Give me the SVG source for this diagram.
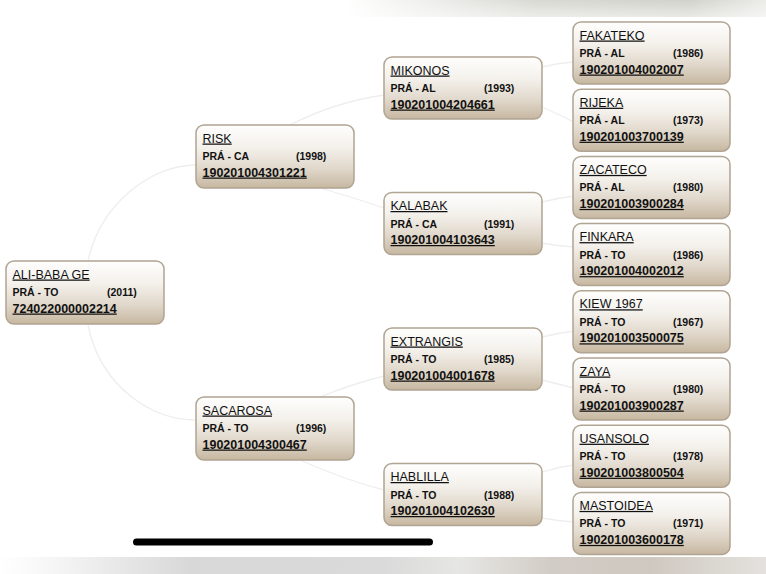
<svg xmlns="http://www.w3.org/2000/svg" width="766" height="574" viewBox="0 0 766 574">
<defs>
<linearGradient id="nodeFill" x1="0" y1="0" x2="0" y2="1">
<stop offset="0" stop-color="#fefefd"/>
<stop offset="0.35" stop-color="#f4f1ec"/>
<stop offset="0.7" stop-color="#e0d7ca"/>
<stop offset="1" stop-color="#c6b7a0"/>
</linearGradient>
<linearGradient id="topBand" x1="0" y1="0" x2="1" y2="0">
<stop offset="0" stop-color="#ffffff"/>
<stop offset="0.45" stop-color="#ffffff"/>
<stop offset="0.7" stop-color="#d9d9d3"/>
<stop offset="0.9" stop-color="#d2d2cc"/>
<stop offset="1" stop-color="#ecece8"/>
</linearGradient>
<linearGradient id="topFade" x1="0" y1="0" x2="0" y2="1">
<stop offset="0" stop-color="#ffffff" stop-opacity="0"/>
<stop offset="1" stop-color="#ffffff" stop-opacity="0.5"/>
</linearGradient>
<linearGradient id="botBand" x1="0" y1="0" x2="1" y2="0">
<stop offset="0" stop-color="#ffffff"/>
<stop offset="0.08" stop-color="#f4f4f4"/>
<stop offset="0.25" stop-color="#d8d8d8"/>
<stop offset="0.5" stop-color="#dadada"/>
<stop offset="0.6" stop-color="#e6e6e4"/>
<stop offset="0.72" stop-color="#d2ccc6"/>
<stop offset="0.85" stop-color="#cfc8c0"/>
<stop offset="1" stop-color="#e4e2de"/>
</linearGradient>
<style>
.box{fill:url(#nodeFill);stroke:#b0a492;stroke-width:1.5}
.nm{font-family:"Liberation Sans",Arial,sans-serif;font-size:12.5px;fill:#111111;text-decoration:underline}
.st{font-family:"Liberation Sans",Arial,sans-serif;font-size:10.5px;font-weight:bold;fill:#111111}
.id{font-family:"Liberation Sans",Arial,sans-serif;font-size:12.5px;font-weight:bold;fill:#111111;text-decoration:underline}
.cn{fill:none;stroke:#eeeeee;stroke-width:1.3}
</style>
</defs>
<rect x="0" y="0" width="766" height="574" fill="#ffffff"/>
<rect x="0" y="0" width="766" height="17" fill="url(#topBand)"/>
<rect x="0" y="0" width="766" height="17" fill="url(#topFade)"/>
<rect x="0" y="557" width="766" height="17" fill="url(#botBand)"/>

<g id="connectors">
<path class="cn" d="M88,261 C100,205 150,165 196,165"/>
<path class="cn" d="M88,325 C100,385 150,420 196,420"/>
<path class="cn" d="M290,125 Q335,102 384,95"/>
<path class="cn" d="M320,188 Q355,198 384,208"/>
<path class="cn" d="M320,397 Q352,384 384,376"/>
<path class="cn" d="M300,460 Q345,480 384,490"/>
<path class="cn" d="M542,67 Q558,63 574,62"/>
<path class="cn" d="M542,107 Q558,114 574,122"/>
<path class="cn" d="M542,202 Q558,198 574,196"/>
<path class="cn" d="M542,243 Q558,246 574,247"/>
<path class="cn" d="M542,337 Q558,333 574,331"/>
<path class="cn" d="M542,380 Q558,384 574,388"/>
<path class="cn" d="M542,472 Q558,467 574,465"/>
<path class="cn" d="M542,518 Q558,521 574,522"/>
</g>

<g id="n-alibaba" transform="translate(6,261)"><rect class="box" width="158" height="63" rx="8"/><text class="nm" x="6.5" y="17.5">ALI-BABA GE</text><text class="st" x="6.5" y="35">PRÁ - TO</text><text class="st" x="101" y="35">(2011)</text><text class="id" x="6.5" y="51.5">724022000002214</text></g>

<g id="n-risk" transform="translate(196,125)"><rect class="box" width="158" height="63" rx="8"/><text class="nm" x="6.5" y="17.5">RISK</text><text class="st" x="6.5" y="35">PRÁ - CA</text><text class="st" x="100" y="35">(1998)</text><text class="id" x="6.5" y="51.5">190201004301221</text></g>
<g id="n-sacarosa" transform="translate(196,397)"><rect class="box" width="158" height="63" rx="8"/><text class="nm" x="6.5" y="17.5">SACAROSA</text><text class="st" x="6.5" y="35">PRÁ - TO</text><text class="st" x="100" y="35">(1996)</text><text class="id" x="6.5" y="51.5">190201004300467</text></g>

<g id="n-mikonos" transform="translate(384,57)"><rect class="box" width="158" height="62" rx="8"/><text class="nm" x="6.5" y="17.5">MIKONOS</text><text class="st" x="6.5" y="35">PRÁ - AL</text><text class="st" x="100" y="35">(1993)</text><text class="id" x="6.5" y="51.5">190201004204661</text></g>
<g id="n-kalabak" transform="translate(384,192.5)"><rect class="box" width="158" height="62" rx="8"/><text class="nm" x="6.5" y="17.5">KALABAK</text><text class="st" x="6.5" y="35">PRÁ - CA</text><text class="st" x="100" y="35">(1991)</text><text class="id" x="6.5" y="51.5">190201004103643</text></g>
<g id="n-extrangis" transform="translate(384,328)"><rect class="box" width="158" height="62" rx="8"/><text class="nm" x="6.5" y="17.5">EXTRANGIS</text><text class="st" x="6.5" y="35">PRÁ - TO</text><text class="st" x="100" y="35">(1985)</text><text class="id" x="6.5" y="51.5">190201004001678</text></g>
<g id="n-hablilla" transform="translate(384,463.5)"><rect class="box" width="158" height="62" rx="8"/><text class="nm" x="6.5" y="17.5">HABLILLA</text><text class="st" x="6.5" y="35">PRÁ - TO</text><text class="st" x="100" y="35">(1988)</text><text class="id" x="6.5" y="51.5">190201004102630</text></g>

<g id="n-fakateko" transform="translate(573,22)"><rect class="box" width="157" height="62" rx="8"/><text class="nm" x="6.5" y="17.5">FAKATEKO</text><text class="st" x="6.5" y="35">PRÁ - AL</text><text class="st" x="100" y="35">(1986)</text><text class="id" x="6.5" y="51.5">190201004002007</text></g>
<g id="n-rijeka" transform="translate(573,89.2)"><rect class="box" width="157" height="62" rx="8"/><text class="nm" x="6.5" y="17.5">RIJEKA</text><text class="st" x="6.5" y="35">PRÁ - AL</text><text class="st" x="100" y="35">(1973)</text><text class="id" x="6.5" y="51.5">190201003700139</text></g>
<g id="n-zacateco" transform="translate(573,156.4)"><rect class="box" width="157" height="62" rx="8"/><text class="nm" x="6.5" y="17.5">ZACATECO</text><text class="st" x="6.5" y="35">PRÁ - AL</text><text class="st" x="100" y="35">(1980)</text><text class="id" x="6.5" y="51.5">190201003900284</text></g>
<g id="n-finkara" transform="translate(573,223.6)"><rect class="box" width="157" height="62" rx="8"/><text class="nm" x="6.5" y="17.5">FINKARA</text><text class="st" x="6.5" y="35">PRÁ - TO</text><text class="st" x="100" y="35">(1986)</text><text class="id" x="6.5" y="51.5">190201004002012</text></g>
<g id="n-kiew" transform="translate(573,290.8)"><rect class="box" width="157" height="62" rx="8"/><text class="nm" x="6.5" y="17.5">KIEW 1967</text><text class="st" x="6.5" y="35">PRÁ - TO</text><text class="st" x="100" y="35">(1967)</text><text class="id" x="6.5" y="51.5">190201003500075</text></g>
<g id="n-zaya" transform="translate(573,358)"><rect class="box" width="157" height="62" rx="8"/><text class="nm" x="6.5" y="17.5">ZAYA</text><text class="st" x="6.5" y="35">PRÁ - TO</text><text class="st" x="100" y="35">(1980)</text><text class="id" x="6.5" y="51.5">190201003900287</text></g>
<g id="n-usansolo" transform="translate(573,425.2)"><rect class="box" width="157" height="62" rx="8"/><text class="nm" x="6.5" y="17.5">USANSOLO</text><text class="st" x="6.5" y="35">PRÁ - TO</text><text class="st" x="100" y="35">(1978)</text><text class="id" x="6.5" y="51.5">190201003800504</text></g>
<g id="n-mastoidea" transform="translate(573,492.4)"><rect class="box" width="157" height="62" rx="8"/><text class="nm" x="6.5" y="17.5">MASTOIDEA</text><text class="st" x="6.5" y="35">PRÁ - TO</text><text class="st" x="100" y="35">(1971)</text><text class="id" x="6.5" y="51.5">190201003600178</text></g>

<rect x="133" y="538.5" width="300" height="7" rx="3.5" fill="#000000"/>
</svg>
